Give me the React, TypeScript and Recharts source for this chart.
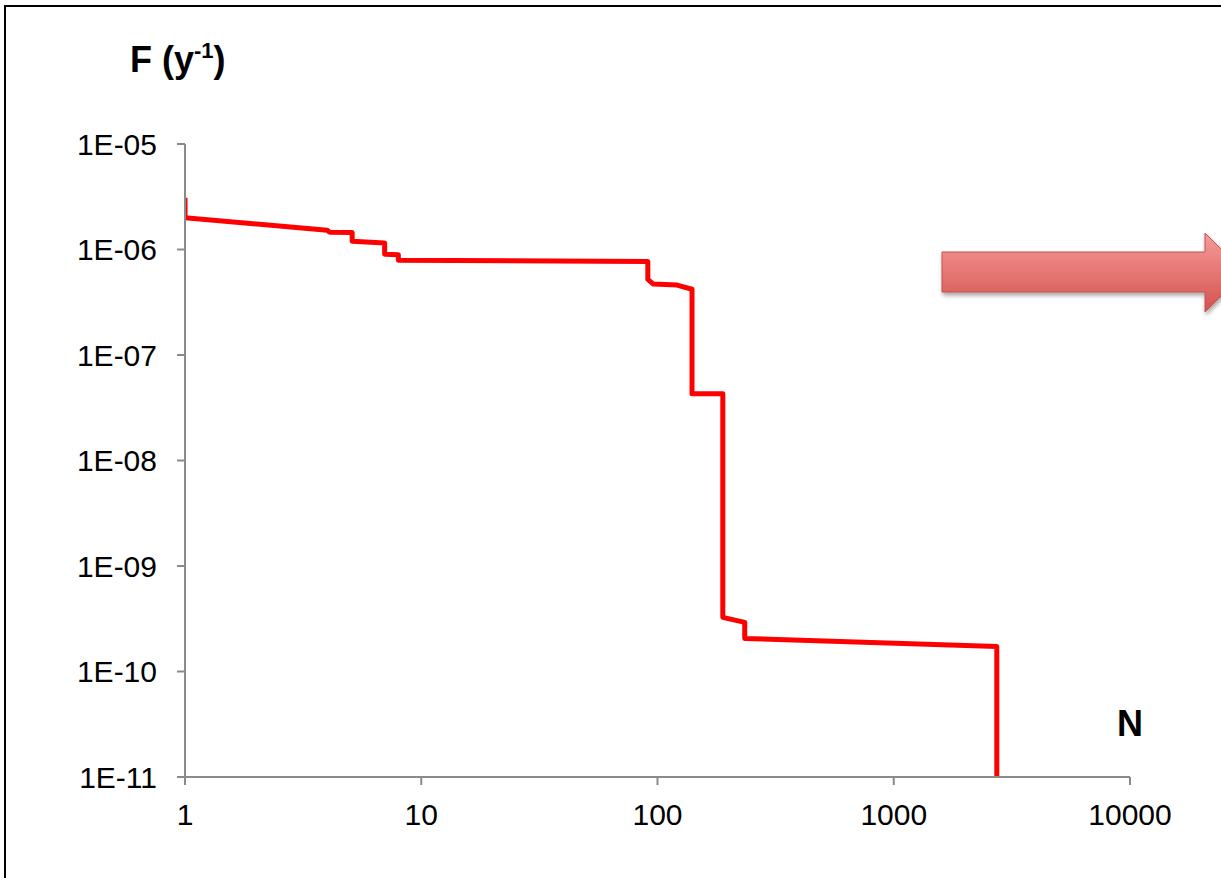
import React from 'react';
import { LineChart, Line, XAxis, YAxis } from 'recharts';

// number of fatalities N vs cumulative frequency F (per year)
const nValues = [1, 1, 4, 4.1, 5.1, 5.1, 7, 7, 8, 8, 91, 91, 96, 121, 140, 140, 189, 189, 234, 234, 2730, 2730];
const fValues = [
  3.1e-6, 2.0e-6, 1.52e-6, 1.46e-6, 1.45e-6, 1.2e-6, 1.15e-6, 9.0e-7, 8.9e-7, 7.9e-7, 7.7e-7,
  5.2e-7, 4.7e-7, 4.6e-7, 4.2e-7, 4.3e-8, 4.3e-8, 3.26e-10, 2.92e-10, 2.06e-10, 1.73e-10, 1e-11,
];

const xTicks = [1, 10, 100, 1000, 10000];
const yTicks = [1e-5, 1e-6, 1e-7, 1e-8, 1e-9, 1e-10, 1e-11];

const data = nValues.map((n, i) => ({ n, f: fValues[i] }));

const FONT = "Arial, 'Liberation Sans', sans-serif";
const AXIS = '#8a8a8a';

const fmtExp = (v: number) => {
  const e = Math.round(Math.log10(v));
  return `1E-${String(-e).padStart(2, '0')}`;
};

export default function App() {
  return (
    <div
      style={{
        position: 'absolute',
        left: 0,
        top: 0,
        width: 1221,
        height: 878,
        overflow: 'hidden',
        background: '#fff',
        fontFamily: FONT,
      }}
    >
      <div
        style={{
          position: 'absolute',
          left: 4,
          top: 5,
          width: 1300,
          height: 1000,
          border: '2px solid #000',
        }}
      />
      <div style={{ position: 'absolute', left: 0, top: 0 }}>
        <LineChart width={1221} height={878} data={data} margin={{ top: 144, right: 91, bottom: 41, left: 0 }}>
          <XAxis
            dataKey="n"
            type="number"
            scale="log"
            domain={[1, 10000]}
            ticks={xTicks}
            allowDataOverflow
            height={60}
            stroke={AXIS}
            strokeWidth={2}
            tickSize={8}
            tickMargin={19}
            tick={{ fill: '#000', fontSize: 30, fontFamily: FONT }}
          />
          <YAxis
            dataKey="f"
            type="number"
            scale="log"
            domain={[1e-11, 1e-5]}
            ticks={yTicks}
            allowDataOverflow
            width={185}
            stroke={AXIS}
            strokeWidth={2}
            tickSize={8}
            tickMargin={20}
            tickFormatter={fmtExp}
            tick={{ fill: '#000', fontSize: 30, fontFamily: FONT }}
          />
          <Line
            type="linear"
            dataKey="f"
            stroke="#ff0000"
            strokeWidth={5}
            strokeLinejoin="round"
            dot={false}
            activeDot={false}
            isAnimationActive={false}
          />
        </LineChart>
      </div>
      <svg width={1221} height={878} style={{ position: 'absolute', left: 0, top: 0, pointerEvents: 'none' }}>
        <defs>
          <linearGradient id="arrowFill" x1="0" y1="0" x2="0" y2="1">
            <stop offset="0%" stopColor="#f79c9a" />
            <stop offset="100%" stopColor="#d4514e" />
          </linearGradient>
          <filter id="arrowShadow" x="-10%" y="-30%" width="130%" height="180%">
            <feDropShadow dx="1" dy="3" stdDeviation="2" floodColor="#000" floodOpacity="0.35" />
          </filter>
        </defs>
        <path
          d="M942 252 L1205 252 L1205 233 L1245 272.5 L1205 312 L1205 292 L942 292 Z"
          fill="url(#arrowFill)"
          stroke="#c0504d"
          strokeWidth={1}
          filter="url(#arrowShadow)"
        />
        <text x={130} y={72} fontFamily={FONT} fontWeight="bold" fontSize={36} fill="#000">
          F (y
          <tspan fontSize={22} dy={-14}>-1</tspan>
          <tspan dy={14}>)</tspan>
        </text>
        <text x={1117} y={736} fontFamily={FONT} fontWeight="bold" fontSize={36} fill="#000">
          N
        </text>
      </svg>
    </div>
  );
}
